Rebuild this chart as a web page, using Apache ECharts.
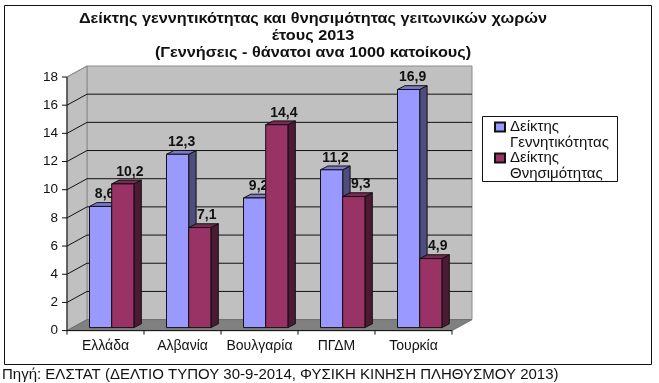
<!DOCTYPE html>
<html>
<head>
<meta charset="utf-8">
<style>
  html, body { margin: 0; padding: 0; background: #fff; }
  #chart { width: 659px; height: 383px; }
</style>
<script src="https://cdn.jsdelivr.net/npm/echarts@6/dist/echarts.min.js"></script>
</head>
<body>
<div id="chart"></div>
<script>
const FONT = '"Liberation Sans", Arial, sans-serif'

const categories = ['Ελλάδα', 'Αλβανία', 'Βουλγαρία', 'ΠΓΔΜ', 'Τουρκία']
const birthName = 'Δείκτης Γεννητικότητας'
const deathName = 'Δείκτης Θνησιμότητας'
const birthRate = [8.6, 12.3, 9.2, 11.2, 16.9]
const deathRate = [10.2, 7.1, 14.4, 9.3, 4.9]
const yTicks = [0, 2, 4, 6, 8, 10, 12, 14, 16, 18]
const titleLines = [
  'Δείκτης γεννητικότητας και θνησιμότητας γειτωνικών χωρών',
  'έτους 2013',
  '(Γεννήσεις - θάνατοι ανα 1000 κατοίκους)',
]
const sourceText = 'Πηγή: ΕΛΣΤΑΤ (ΔΕΛΤΙΟ ΤΥΠΟΥ 30-9-2014, ΦΥΣΙΚΗ ΚΙΝΗΣΗ ΠΛΗΘΥΣΜΟΥ 2013)'

// depth of the fake 3d box, and of the bars inside it
const WALL_DX = 20, WALL_DY = -11
const BAR_DX = 6.2, BAR_DY = -3, SIDE_DX = 7.4, SIDE_DY = -3.8
const BAR_W = 22.2

function poly(points, fill, stroke) {
  return {
    type: 'polygon',
    shape: { points },
    style: { fill, stroke: stroke || null, lineWidth: 1 },
    silent: true,
  }
}

function renderWalls(params, api) {
  if (params.dataIndex !== 0) return
  const cs = params.coordSys
  const l = cs.x, r = cs.x + cs.width, b = cs.y + cs.height, t = cs.y
  const children = [
    poly([[l + WALL_DX, t + WALL_DY], [r + WALL_DX, t + WALL_DY], [r + WALL_DX, b + WALL_DY], [l + WALL_DX, b + WALL_DY]], '#c0c0c0', '#8c8c8c'),
    poly([[l, t], [l + WALL_DX, t + WALL_DY], [l + WALL_DX, b + WALL_DY], [l, b]], '#c0c0c0', '#8c8c8c'),
    poly([[l, b], [r, b], [r + WALL_DX, b + WALL_DY], [l + WALL_DX, b + WALL_DY]], '#808080', '#6e6e6e'),
  ]
  yTicks.forEach(v => {
    if (v === 0) return
    const y = api.coord([0, v])[1]
    const last = v === yTicks[yTicks.length - 1]
    children.push({
      type: 'polyline',
      shape: { points: last ? [[l, y], [l + WALL_DX, y + WALL_DY]] : [[l, y], [l + WALL_DX, y + WALL_DY], [r + WALL_DX, y + WALL_DY]] },
      style: { fill: null, stroke: last ? '#8c8c8c' : '#111', lineWidth: 1 },
      silent: true,
    })
  })
  return { type: 'group', children }
}

function barRenderer(seriesPos, front, side, top, labelDx) {
  return (params, api) => {
    const v = api.value(1)
    const p = api.coord([api.value(0), v])
    const p0 = api.coord([api.value(0), 0])
    const x0 = p[0] + BAR_DX - BAR_W + seriesPos * BAR_W
    const x1 = x0 + BAR_W
    const yT = p[1] + BAR_DY
    const yB = p0[1] + BAR_DY
    return {
      type: 'group',
      children: [
        poly([[x1, yT], [x1 + SIDE_DX, yT + SIDE_DY], [x1 + SIDE_DX, yB + SIDE_DY], [x1, yB]], side, '#111'),
        poly([[x0, yT], [x0 + SIDE_DX, yT + SIDE_DY], [x1 + SIDE_DX, yT + SIDE_DY], [x1, yT]], top, '#111'),
        poly([[x0, yT], [x1, yT], [x1, yB], [x0, yB]], front, '#111'),
        {
          type: 'text',
          silent: true,
          style: {
            x: (x0 + x1) / 2 + labelDx,
            y: yT - 12,
            text: String(v).replace('.', ','),
            align: 'center',
            verticalAlign: 'middle',
            font: 'bold 14px ' + FONT,
            fill: '#111',
          },
        },
      ],
    }
  }
}

// the source picture is a horizontally stretched screenshot, hence scaleX on the titles
function titleLine(text, y) {
  return {
    type: 'text',
    silent: true,
    x: 313,
    y,
    scaleX: 1.16,
    style: { x: 0, y: 0, text, align: 'center', verticalAlign: 'middle', font: 'bold 14px ' + FONT, fill: '#111' },
  }
}

const chart = echarts.init(document.getElementById('chart'), null, { renderer: 'canvas' })

chart.setOption({
  backgroundColor: '#fff',
  animation: false,
  grid: { left: 67, right: 207, top: 77, bottom: 52.4 },
  legend: {
    orient: 'vertical',
    left: 494,
    top: 103,
    padding: 0,
    itemGap: -17,
    itemWidth: 10,
    itemHeight: 9,
    selectedMode: false,
    icon: 'rect',
    data: [birthName, deathName],
    formatter: name => '\n' + name.replace(' ', '\n'),
    textStyle: { fontFamily: FONT, fontSize: 15, color: '#111', lineHeight: 16 },
  },
  xAxis: {
    type: 'category',
    data: categories,
    axisLine: { show: false },
    axisTick: { show: false },
    axisLabel: { color: '#111', fontFamily: FONT, fontSize: 14, margin: 9, interval: 0, hideOverlap: false },
  },
  yAxis: {
    type: 'value',
    min: 0,
    max: 18,
    interval: 2,
    axisLine: { show: false },
    axisTick: { show: false },
    splitLine: { show: false },
    axisLabel: { color: '#111', fontFamily: FONT, fontSize: 13.5, margin: 9 },
  },
  graphic: [
    { type: 'rect', silent: true, z: -1, shape: { x: 4.5, y: 5.5, width: 647, height: 359 }, style: { fill: null, stroke: '#111', lineWidth: 1 } },
    { type: 'rect', silent: true, z: -1, shape: { x: 482.5, y: 116.5, width: 135, height: 65 }, style: { fill: '#fff', stroke: '#111', lineWidth: 1 } },
    titleLine(titleLines[0], 19),
    titleLine(titleLines[1], 36),
    titleLine(titleLines[2], 53),
    { type: 'text', silent: true, style: { x: 2, y: 375, text: sourceText, align: 'left', verticalAlign: 'middle', font: '15px ' + FONT, fill: '#111' } },
  ],
  series: [
    {
      type: 'custom',
      name: 'walls',
      silent: true,
      clip: false,
      renderItem: renderWalls,
      data: [[0, 0]],
      encode: { x: 0, y: 1 },
    },
    {
      type: 'custom',
      name: birthName,
      clip: false,
      itemStyle: { color: '#9999ff', borderColor: '#111', borderWidth: 1 },
      renderItem: barRenderer(0, '#9999ff', '#4d4d80', '#7a7acc', 4),
      data: birthRate.map((v, i) => [i, v]),
      encode: { x: 0, y: 1 },
    },
    {
      type: 'custom',
      name: deathName,
      clip: false,
      itemStyle: { color: '#993366', borderColor: '#111', borderWidth: 1 },
      renderItem: barRenderer(1, '#993366', '#4d1a33', '#7a2952', 7),
      data: deathRate.map((v, i) => [i, v]),
      encode: { x: 0, y: 1 },
    },
    // front axis lines sit above the floor
    {
      type: 'custom',
      name: 'axes',
      silent: true,
      clip: false,
      renderItem(params, api) {
        if (params.dataIndex !== 0) return
        const cs = params.coordSys
        const l = cs.x, r = cs.x + cs.width, b = cs.y + cs.height, t = cs.y
        const line = (x1, y1, x2, y2) => ({
          type: 'line', silent: true,
          shape: { x1, y1, x2, y2 },
          style: { stroke: '#111', lineWidth: 1 },
        })
        const children = [line(l, t, l, b + 4), line(l, b, r, b)]
        yTicks.forEach(v => {
          const y = api.coord([0, v])[1]
          children.push(line(l - 5, y, l, y))
        })
        categories.forEach((c, i) => {
          const x = l + (i + 1) * cs.width / categories.length
          children.push(line(x, b, x, b + 4))
        })
        return { type: 'group', children }
      },
      data: [[0, 0]],
      encode: { x: 0, y: 1 },
    },
  ],
})

window.addEventListener('resize', () => chart.resize())
</script>
</body>
</html>
